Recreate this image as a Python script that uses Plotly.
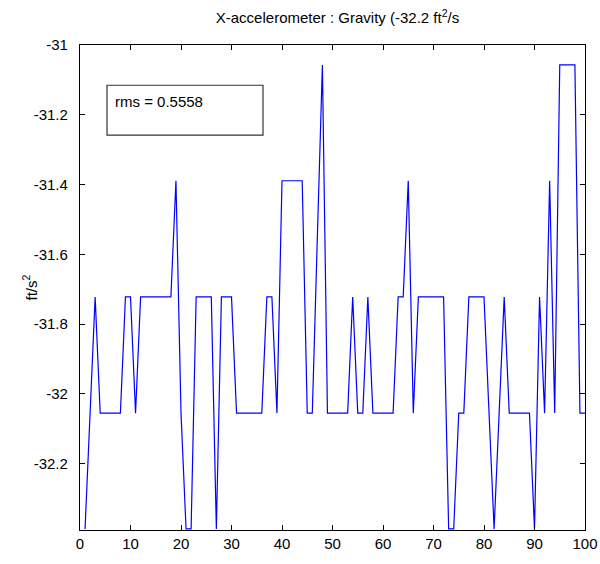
import plotly.graph_objects as go

# sample index
x_idx = list(range(1, 101))

# X-accelerometer readings (ft/s^2)
accel = [
    -32.387, -32.055, -31.722, -32.055, -32.055, -32.055, -32.055, -32.055, -31.722, -31.722,  # 1-10
    -32.055, -31.722, -31.722, -31.722, -31.722, -31.722, -31.722, -31.722, -31.389, -32.055,  # 11-20
    -32.387, -32.387, -31.722, -31.722, -31.722, -31.722, -32.387, -31.722, -31.722, -31.722,  # 21-30
    -32.055, -32.055, -32.055, -32.055, -32.055, -32.055, -31.722, -31.722, -32.055, -31.389,  # 31-40
    -31.389, -31.389, -31.389, -31.389, -32.055, -32.055, -31.550, -31.057, -32.055, -32.055,  # 41-50
    -32.055, -32.055, -32.055, -31.722, -32.055, -32.055, -31.722, -32.055, -32.055, -32.055,  # 51-60
    -32.055, -32.055, -31.722, -31.722, -31.389, -32.055, -31.722, -31.722, -31.722, -31.722,  # 61-70
    -31.722, -31.722, -32.387, -32.387, -32.055, -32.055, -31.722, -31.722, -31.722, -31.722,  # 71-80
    -32.055, -32.387, -32.055, -31.722, -32.055, -32.055, -32.055, -32.055, -32.055, -32.387,  # 81-90
    -31.722, -32.055, -31.389, -32.055, -31.057, -31.057, -31.057, -31.057, -32.055, -32.055,  # 91-100
]

x_ticks = [0, 10, 20, 30, 40, 50, 60, 70, 80, 90, 100]
y_ticks = [-32.2, -32.0, -31.8, -31.6, -31.4, -31.2, -31.0]
y_tick_text = ["-32.2", "-32", "-31.8", "-31.6", "-31.4", "-31.2", "-31"]

title_text = "X-accelerometer : Gravity (-32.2 ft<sup>2</sup>/s"
y_label = "ft/s<sup>2</sup>"
rms_text = "rms = 0.5558"

FONT = "Liberation Sans, Arial, sans-serif"

fig = go.Figure()
fig.add_trace(go.Scatter(x=x_idx, y=accel, mode="lines",
                         line=dict(color="#0000ff", width=1.2), showlegend=False))

axis_common = dict(showgrid=False, zeroline=False, showline=True, linecolor="black",
                   linewidth=1.3, mirror="ticks", ticks="inside", ticklen=5,
                   tickcolor="black", tickwidth=1, automargin=False,
                   tickfont=dict(family=FONT, size=15, color="black"))

fig.update_xaxes(range=[0, 100], tickvals=x_ticks, **axis_common)
fig.update_yaxes(range=[-32.39, -31.0], tickvals=y_ticks, ticktext=y_tick_text,
                 ticklabelstandoff=8, **axis_common)

# y-axis label
fig.add_annotation(text=y_label, xref="paper", yref="paper", x=-0.099, y=0.5,
                   xanchor="center", yanchor="middle", textangle=-90, showarrow=False,
                   font=dict(family=FONT, size=15, color="black"))

fig.add_shape(type="rect", xref="paper", yref="paper",
              x0=0.0535, x1=0.3624, y0=0.814, y1=0.917,
              line=dict(color="#333333", width=1.2), fillcolor="white")
fig.add_annotation(text=rms_text, xref="paper", yref="paper", x=0.066, y=0.884,
                   xanchor="left", yanchor="middle", showarrow=False,
                   font=dict(family=FONT, size=15, color="black"))

fig.update_layout(
    width=600, height=564,
    margin=dict(l=80, r=15, t=45, b=34),
    paper_bgcolor="white", plot_bgcolor="white",
    title=dict(text=title_text, x=0.5625, xref="container", xanchor="center",
               y=0.968, yref="container", yanchor="middle",
               font=dict(family=FONT, size=15, color="black")),
)

fig.write_html("out.html")
